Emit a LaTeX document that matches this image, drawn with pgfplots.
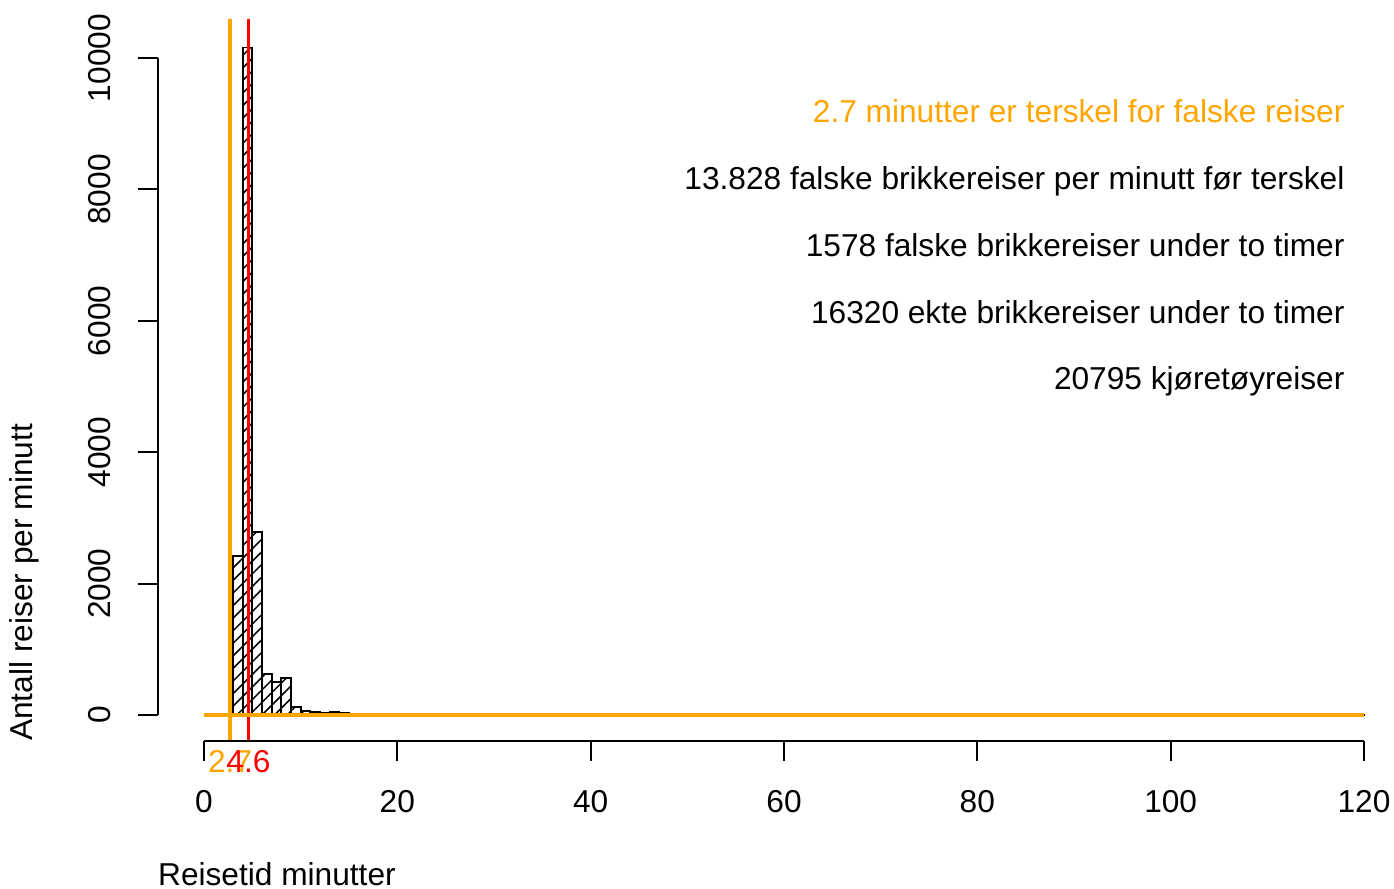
\documentclass[border=0pt]{standalone}
\usepackage{fontspec}
\setmainfont{Liberation Sans}
\usepackage{pgfplots}
\pgfplotsset{compat=1.18}
\usetikzlibrary{patterns.meta}
\definecolor{rorange}{HTML}{FFA500}
\definecolor{rred}{HTML}{FF0000}
\begin{document}
\fontsize{11.4}{13.7}\selectfont
\begin{tikzpicture}[font=\fontsize{11.4}{13.7}\selectfont]
\useasboundingbox (0,0) rectangle (501.84pt,320.04pt);
\begin{axis}[
  at={(56.74pt,53.17pt)}, anchor=south west,
  scale only axis, width=445.09pt, height=260.17pt,
  xmin=-4.8, xmax=123.1, ymin=-400, ymax=10600,
  hide axis, clip=false]
% histogram (1-minute bins)
\addplot[ybar interval, draw=black, line width=0.65pt,
  pattern={Lines[angle=45,distance=3.2pt,line width=0.55pt]}, pattern color=black]
coordinates {
(3,2420) (4,10160) (5,2790) (6,624) (7,507) (8,558) (9,117) (10,60)
(11,45) (12,38) (13,40) (14,25) (15,18) (16,15) (17,12) (18,10) (19,8)
(20,7) (21,6) (22,6) (23,5) (24,5) (25,6) (26,5) (27,5) (28,4) (29,5)
(30,5) (31,4) (32,5) (33,4) (34,5) (35,4) (36,4) (37,5) (38,4) (39,4)
(40,5) (41,4) (42,4) (43,5) (44,4) (45,4) (46,5) (47,4) (48,4) (49,4)
(50,4) (51,4) (52,3) (53,4) (54,4) (55,3) (56,4) (57,3) (58,4) (59,3)
(60,3) (61,3) (62,4) (63,3) (64,3) (65,3) (66,3) (67,4) (68,3) (69,3)
(70,3) (71,3) (72,2) (73,3) (74,3) (75,3) (76,2) (77,3) (78,3) (79,2)
(80,3) (81,3) (82,2) (83,3) (84,3) (85,2) (86,3) (87,2) (88,3) (89,3)
(90,2) (91,3) (92,2) (93,3) (94,2) (95,3) (96,2) (97,2) (98,3) (99,2)
(100,2) (101,3) (102,2) (103,2) (104,3) (105,2) (106,2) (107,2) (108,3) (109,2)
(110,2) (111,2) (112,3) (113,2) (114,2) (115,2) (116,2) (117,3) (118,2) (119,2)
(120,0)};
% threshold lines
\addplot[rorange, line width=1.4pt] coordinates {(2.7,-400) (2.7,10600)};
\addplot[rred, line width=1.25pt] coordinates {(4.6,-400) (4.6,10600)};
% horizontal orange line at zero
\addplot[rorange, line width=1.3pt] coordinates {(0,0) (120,0)};
% x axis (detached, R style)
\draw[line width=0.75pt] (axis cs:0,-400) -- (axis cs:120,-400);
\pgfplotsinvokeforeach{0,20,40,60,80,100,120}{
  \draw[line width=0.75pt] (axis cs:#1,-400) -- ++(0pt,-7pt);
  \node[anchor=base, inner sep=0pt] at ([yshift=-25.5pt]axis cs:#1,-400) {#1};
}
\node[anchor=base, inner sep=0pt, text=rorange] at ([yshift=-11.4pt]axis cs:2.7,-400) {2.7};
\node[anchor=base, inner sep=0pt, text=rred] at ([yshift=-11.4pt]axis cs:4.6,-400) {4.6};
% y axis
\draw[line width=0.75pt] (axis cs:-4.8,0) -- (axis cs:-4.8,10000);
\pgfplotsinvokeforeach{0,2000,4000,6000,8000,10000}{
  \draw[line width=0.75pt] (axis cs:-4.8,#1) -- ++(-7pt,0pt);
  \node[anchor=base, rotate=90, inner sep=0pt] at ([xshift=-16.8pt]axis cs:-4.8,#1) {#1};
}
% axis titles
\node[anchor=base west, inner sep=0pt] at ([yshift=-52pt]axis cs:-4.8,-400) {Reisetid minutter};
\node[anchor=base west, rotate=90, inner sep=0pt] at ([xshift=-44.9pt]axis cs:-4.8,-400) {Antall reiser per minutt};
% annotations
\node[anchor=base east, inner sep=0pt, text=rorange] at (axis cs:118.03,9026) {2.7 minutter er terskel for falske reiser};
\node[anchor=base east, inner sep=0pt] at (axis cs:118.03,8006) {13.828 falske brikkereiser per minutt før terskel};
\node[anchor=base east, inner sep=0pt] at (axis cs:118.03,6986) {1578 falske brikkereiser under to timer};
\node[anchor=base east, inner sep=0pt] at (axis cs:118.03,5966) {16320 ekte brikkereiser under to timer};
\node[anchor=base east, inner sep=0pt] at (axis cs:118.03,4947) {20795 kjøretøyreiser};
\end{axis}
\end{tikzpicture}
\end{document}
